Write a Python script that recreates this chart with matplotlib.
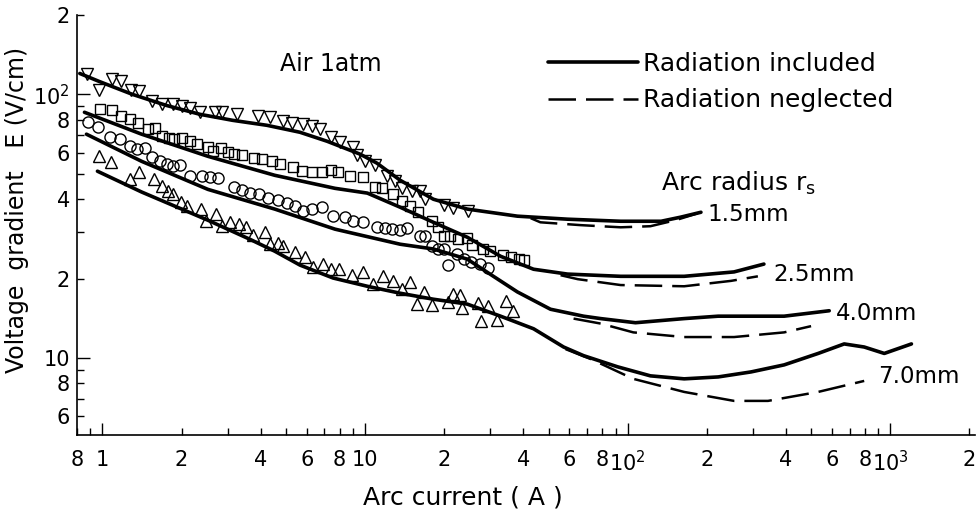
import numpy as np
import matplotlib
matplotlib.use("Agg")
import matplotlib.pyplot as plt
from matplotlib.lines import Line2D

plt.rcParams['font.family'] = ['DejaVu Sans']
plt.rcParams['mathtext.default'] = 'regular'

x_tri_down = [0.87, 0.97, 1.09, 1.18, 1.29, 1.38, 1.54, 1.69, 1.85, 2.0, 2.15, 2.35, 2.68, 2.85,
              3.25, 3.91, 4.34, 4.86, 5.27, 5.8, 6.28, 6.73, 7.42, 8.03, 9.0, 9.32, 10.0, 10.9,
              12.1, 13.0, 13.8, 15.1, 16.2, 16.9, 19.9, 21.7, 24.7]
y_tri_down = [119, 104, 114, 112, 104, 103, 94, 92, 92, 90, 89, 86, 85.5, 85.5,
              84, 82.5, 82, 79, 78, 77, 76, 74, 69, 66, 63, 59, 56, 54,
              49, 47, 44, 43, 43, 40, 38, 37, 36]

x_square = [0.98, 1.09, 1.18, 1.27, 1.37, 1.49, 1.58, 1.68, 1.79, 1.88, 2.0, 2.15, 2.3, 2.52,
            2.63, 2.82, 3.0, 3.16, 3.39, 3.77, 4.04, 4.42, 4.74, 5.31, 5.75, 6.28, 6.85, 7.42,
            7.89, 8.76, 9.82, 10.9, 11.6, 12.8, 13.8, 14.8, 15.9, 18.0, 19.0, 19.9, 21.1, 22.6,
            24.5, 25.6, 28.0, 30.0, 33.6, 35.8, 38.4, 40.1]
y_square = [87.7, 87.0, 82.5, 80.4, 77.6, 73.7, 74.3, 69.3, 68.1, 67.5, 68.1, 66.4, 64.7, 63.0,
            60.8, 62.5, 60.3, 59.3, 58.7, 57.2, 56.7, 55.7, 54.3, 52.9, 51.1, 50.6, 50.6, 51.5,
            50.6, 48.9, 48.5, 44.4, 44.0, 41.8, 39.3, 37.6, 35.7, 33.0, 31.3, 29.0, 29.0, 28.2,
            28.5, 26.8, 25.9, 25.4, 24.5, 24.1, 23.7, 23.5]

x_circle = [0.88, 0.96, 1.07, 1.17, 1.27, 1.35, 1.45, 1.55, 1.65, 1.76, 1.85, 1.97, 2.15, 2.39,
            2.56, 2.75, 3.16, 3.39, 3.64, 3.94, 4.26, 4.66, 5.04, 5.41, 5.8, 6.28, 6.85, 7.55,
            8.39, 9.0, 9.82, 11.1, 11.9, 12.7, 13.6, 14.5, 16.2, 16.9, 18.0, 19.0, 19.9, 20.7,
            22.4, 23.7, 25.2, 27.5, 29.5]
y_circle = [78.4, 75.0, 68.7, 67.5, 63.5, 61.9, 62.5, 57.7, 55.7, 54.3, 53.3, 53.8, 48.9, 48.9,
            48.5, 48.1, 44.4, 43.3, 42.2, 41.8, 40.4, 39.7, 38.6, 37.6, 36.0, 36.6, 37.3, 34.5,
            34.2, 33.0, 32.7, 31.3, 31.1, 30.8, 30.5, 31.1, 29.0, 29.0, 26.6, 25.9, 25.9, 22.5,
            24.8, 23.7, 23.1, 22.7, 21.9]

x_tri_up = [0.97, 1.08, 1.27, 1.38, 1.57, 1.68, 1.77, 1.85, 1.99, 2.09, 2.37, 2.47, 2.7, 2.85,
            3.05, 3.3, 3.51, 3.74, 4.15, 4.34, 4.66, 4.86, 5.41, 5.9, 6.33, 6.92, 7.42, 7.96,
            8.92, 9.82, 10.7, 11.7, 12.8, 13.8, 14.8, 15.8, 16.8, 18.0, 20.6, 21.7, 23.0, 23.4,
            26.8, 27.7, 29.5, 31.9, 34.5, 36.7]
y_tri_up = [58.2, 55.3, 47.6, 50.6, 47.6, 44.8, 42.9, 41.8, 39.0, 37.6, 36.7, 33.0, 35.1, 31.6,
            32.7, 32.2, 31.3, 29.2, 30.0, 27.0, 27.3, 26.6, 25.2, 24.1, 22.1, 22.7, 21.7, 21.7,
            20.6, 21.2, 19.1, 20.4, 19.6, 18.3, 19.4, 16.0, 17.8, 15.9, 16.3, 17.5, 17.3, 15.5,
            16.2, 13.8, 15.7, 13.9, 16.4, 15.1]

# calculated curves, radiation included (solid)
x_inc_15 = [0.82, 0.97, 1.30, 1.75, 2.35, 3.13, 4.23, 5.65, 7.16, 9.57, 11.1, 13.6, 18.2, 24.5,
            38.0, 59.0, 94.0, 134, 159, 190]
y_inc_15 = [120, 112, 100, 90.8, 84.0, 79.7, 76.3, 71.8, 66.4, 59.3, 54.8, 47.2, 40.0, 36.7,
            34.5, 33.6, 33.0, 33.0, 34.2, 35.7]
x_inc_25 = [0.854, 1.41, 2.52, 4.53, 7.68, 10.2, 13.6, 18.2, 24.5, 32.8, 43.8, 59.0, 94.0, 164,
            254, 330]
y_inc_25 = [85.5, 70.6, 58.2, 49.3, 44.0, 42.2, 37.3, 32.7, 28.7, 24.3, 21.7, 20.8, 20.4, 20.4,
            21.2, 22.7]
x_inc_40 = [0.869, 1.41, 2.52, 4.53, 7.68, 13.6, 18.2, 24.5, 30.8, 38.0, 50.8, 67.9, 78.9, 107,
            164, 221, 394, 585]
y_inc_40 = [70.6, 55.7, 43.6, 36.7, 30.8, 27.0, 25.9, 23.7, 20.4, 17.8, 15.3, 14.4, 14.1, 13.6,
            14.1, 14.4, 14.4, 15.1]
x_inc_70 = [0.957, 1.41, 2.52, 3.64, 4.53, 5.65, 7.55, 10.2, 13.6, 18.2, 24.5, 32.8, 43.8, 57.0,
            67.9, 91.6, 122, 164, 221, 295, 394, 531, 667, 795, 948, 1203]
y_inc_70 = [51.1, 42.6, 33.3, 28.2, 25.4, 22.5, 20.1, 18.7, 17.6, 16.7, 16.0, 14.4, 12.9, 11.0,
            10.2, 9.25, 8.55, 8.33, 8.47, 8.85, 9.41, 10.4, 11.3, 11.0, 10.4, 11.3]

# radiation neglected (dashed)
x_neg_15 = [42.7, 46.5, 66.2, 94.0, 122, 152, 185]
y_neg_15 = [33.9, 32.7, 31.9, 31.3, 31.6, 33.3, 35.4]
x_neg_25 = [55.5, 64.5, 94.0, 164, 247, 313]
y_neg_25 = [20.6, 19.9, 18.9, 18.7, 19.6, 20.4]
x_neg_40 = [62.2, 78.9, 105, 164, 254, 394, 499]
y_neg_40 = [14.1, 13.5, 12.5, 12.0, 12.0, 12.5, 13.2]
x_neg_70 = [58.0, 72.2, 105, 164, 254, 342, 531, 795]
y_neg_70 = [10.8, 9.91, 8.33, 7.43, 6.87, 6.87, 7.43, 8.18]

radius_labels = ["1.5mm", "2.5mm", "4.0mm", "7.0mm"]
label_x = [202, 357, 622, 900]
label_y = [35.1, 20.8, 14.7, 8.47]

fig = plt.figure(figsize=(9.8, 5.17), dpi=100)
ax = fig.add_axes([77/980, 82/517, 898/980, 420/517])

solid_kw = dict(color='black', lw=2.6, solid_capstyle='round')
dash_kw = dict(color='black', lw=1.8, dashes=(11, 4))
for xs, ys in [(x_inc_15, y_inc_15), (x_inc_25, y_inc_25), (x_inc_40, y_inc_40), (x_inc_70, y_inc_70)]:
    ax.plot(xs, ys, **solid_kw)
for xs, ys in [(x_neg_15, y_neg_15), (x_neg_25, y_neg_25), (x_neg_40, y_neg_40), (x_neg_70, y_neg_70)]:
    ax.plot(xs, ys, **dash_kw)

mk = dict(ls='none', mfc='none', mec='black', mew=1.0)
ax.plot(x_tri_down, y_tri_down, marker='v', ms=8.5, **mk)
ax.plot(x_square, y_square, marker='s', ms=7.5, **mk)
ax.plot(x_circle, y_circle, marker='o', ms=8, **mk)
ax.plot(x_tri_up, y_tri_up, marker='^', ms=8.5, **mk)

ax.set_xscale('log')
ax.set_yscale('log')
ax.set_xlim(0.8, 2100)
ax.set_ylim(5.1, 200)

for s in ['top', 'right']:
    ax.spines[s].set_visible(False)
for s in ['left', 'bottom']:
    ax.spines[s].set_linewidth(1.2)

# x ticks
ax.set_xticks([1, 10, 100, 1000])
ax.set_xticklabels(['1', '10', '$10^2$', '$10^3$'])
xminor = [0.8, 0.9] + [m * d for d in (1, 10, 100) for m in range(2, 10)] + [2000]
xminor_lab = ['8', ''] + [({2: '2', 4: '4', 6: '6', 8: '8'}).get(m, '') for d in (1, 10, 100) for m in range(2, 10)] + ['2']
ax.set_xticks(xminor, minor=True)
ax.set_xticklabels(xminor_lab, minor=True)

# y ticks
ax.set_yticks([10, 100])
ax.set_yticklabels(['10', '$10^2$'])
yminor = [6, 7, 8, 9, 20, 30, 40, 50, 60, 70, 80, 90, 200]
yminor_lab = ['6', '', '8', '', '2', '', '4', '', '6', '', '8', '', '2']
ax.set_yticks(yminor, minor=True)
ax.set_yticklabels(yminor_lab, minor=True)

ax.tick_params(which='both', direction='in', labelsize=15, width=1.0)
ax.tick_params(which='major', length=9)
ax.tick_params(which='minor', length=5)
ax.tick_params(axis='x', which='both', pad=11)
ax.tick_params(axis='y', which='both', pad=5)

ax.set_xlabel('Arc current ( A )', fontsize=18)
ax.xaxis.set_label_coords(0.43, -0.12)
ax.set_ylabel('Voltage  gradient   E (V/cm)', fontsize=17)
ax.yaxis.set_label_coords(-0.054, 0.535)

ax.text(4.74, 130, 'Air 1atm', fontsize=17, ha='left', va='center')
ax.text(134, 46, 'Arc radius r$_\\mathrm{s}$', fontsize=18, ha='left', va='center')
for lab, lx, ly in zip(radius_labels, label_x, label_y):
    ax.text(lx, ly, lab, fontsize=16.5, ha='left', va='center')

handles = [Line2D([], [], **solid_kw), Line2D([], [], **dash_kw)]
ax.legend(handles, ['Radiation included', 'Radiation neglected'], loc='upper left',
          bbox_to_anchor=(538/980, 1 - 42/517), bbox_transform=fig.transFigure,
          frameon=False, fontsize=18, handlelength=3.6, handletextpad=0.2,
          labelspacing=0.5, borderaxespad=0)

fig.savefig('out.png', dpi=100)
